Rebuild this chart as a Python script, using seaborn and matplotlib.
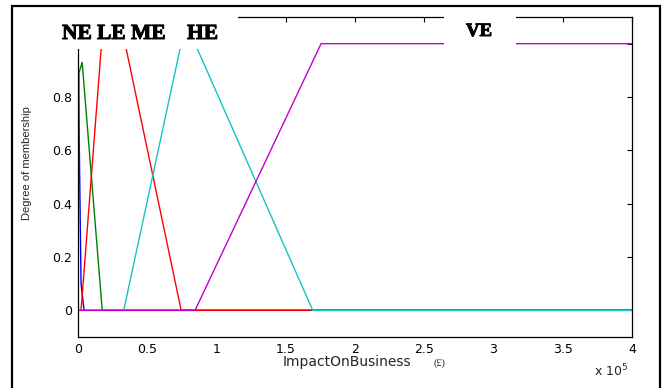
import matplotlib
matplotlib.use("Agg")
import matplotlib.pyplot as plt
import matplotlib.patheffects as pe
from matplotlib.patches import Rectangle
import seaborn as sns
import pandas as pd

sns.set_theme(style="white")
plt.rcParams['font.family'] = ['DejaVu Sans']

# Membership function vertices (x in £, y = degree of membership)
ne_x = [0, 2200, 4400, 400000]
ne_y = [1.0, 0.1, 0.0, 0.0]
le_x = [0, 700, 3000, 17500, 400000]
le_y = [0.0, 0.89, 0.93, 0.0, 0.0]
me_x = [0, 2200, 17000, 34000, 74500, 400000]
me_y = [0.0, 0.0, 1.0, 1.0, 0.0, 0.0]
he_x = [0, 33000, 74500, 84500, 169500, 400000]
he_y = [0.0, 0.0, 1.0, 1.0, 0.0, 0.0]
ve_x = [0, 84500, 175500, 400000]
ve_y = [0.0, 0.0, 1.0, 1.0]

set_names = ["NE", "LE", "ME", "HE", "VE"]
colors = {"NE": "#0000ff", "LE": "#008000", "ME": "#ff0000",
          "HE": "#14c4c4", "VE": "#c400cc"}
xs = [ne_x, le_x, me_x, he_x, ve_x]
ys = [ne_y, le_y, me_y, he_y, ve_y]

xtick_vals = [0, 50000, 100000, 150000, 200000, 250000, 300000, 350000, 400000]
xtick_labels = ["0", "0.5", "1", "1.5", "2", "2.5", "3", "3.5", "4"]
ytick_vals = [0, 0.2, 0.4, 0.6, 0.8, 1.0]
ytick_labels = ["0", "0.2", "0.4", "0.6", "0.8", ""]

rows = []
for name, xx, yy in zip(set_names, xs, ys):
    for a, b in zip(xx, yy):
        rows.append({"set": name, "x": a, "y": b})
df = pd.DataFrame(rows)

W, H = 665, 388
fig = plt.figure(figsize=(W / 100, H / 100), dpi=100)
ax = fig.add_axes([78 / W, 1 - 337 / H, (632 - 78) / W, (337 - 17) / H])

sns.lineplot(data=df, x="x", y="y", hue="set", hue_order=set_names,
             palette=colors, estimator=None, sort=False, units="set",
             linewidth=1.0, legend=False, ax=ax)

ax.set_xlim(0, 400000)
ax.set_ylim(-0.1, 1.1)
ax.set_xticks(xtick_vals)
ax.set_xticklabels(xtick_labels)
ax.set_yticks(ytick_vals)
ax.set_yticklabels(ytick_labels)
ax.tick_params(direction="in", top=True, right=True, length=3.5, width=0.8,
               labelsize=9, colors="black", pad=4)
ax.set_xlabel("")
ax.set_ylabel("")
for s in ax.spines.values():
    s.set_color("black")
    s.set_linewidth(0.9)

# axis texts
fig.text(283 / W, 1 - 362 / H, "ImpactOnBusiness", ha="left", va="center",
         fontsize=10)
fig.text(433 / W, 1 - 363 / H, "(£)", ha="left", va="center", fontsize=7.5,
         family="Liberation Serif")
fig.text(594 / W, 1 - 371 / H, "x 10$^{5}$", ha="left", va="center",
         fontsize=9)
fig.text(27 / W, 1 - 163 / H, "Degree of membership", rotation=90,
         ha="center", va="center", fontsize=8,
         family=["Liberation Sans Narrow", "Liberation Sans", "DejaVu Sans"])

# white label boxes covering the top of the plot
fig.add_artist(Rectangle((40 / W, 1 - 49 / H), (238 - 40) / W, (49 - 8) / H,
                         transform=fig.transFigure, facecolor="white",
                         edgecolor="none", zorder=10))
fig.add_artist(Rectangle((444 / W, 1 - 47 / H), (516 - 444) / W, (47 - 8) / H,
                         transform=fig.transFigure, facecolor="white",
                         edgecolor="none", zorder=10))
label_pos = [("NE", 62, 39, 15.5), ("LE", 97, 39, 15.5), ("ME", 131, 39, 15.5),
             ("HE", 187, 39, 15.5), ("VE", 466, 36, 13.5)]
bold_fx = [pe.withStroke(linewidth=0.7, foreground="black")]
for txt, px, py, fs in label_pos:
    fig.text(px / W, 1 - py / H, txt, ha="left", va="baseline",
             fontsize=fs, fontweight="bold", family="Liberation Serif",
             color="black", zorder=11, path_effects=bold_fx)

# outer frame
fig.add_artist(Rectangle((12 / W, -0.02), (660 - 12) / W, 1 - 6 / H + 0.02,
                         transform=fig.transFigure, facecolor="none",
                         edgecolor="black", linewidth=1.6, zorder=12))

fig.savefig("out.png", dpi=100)
